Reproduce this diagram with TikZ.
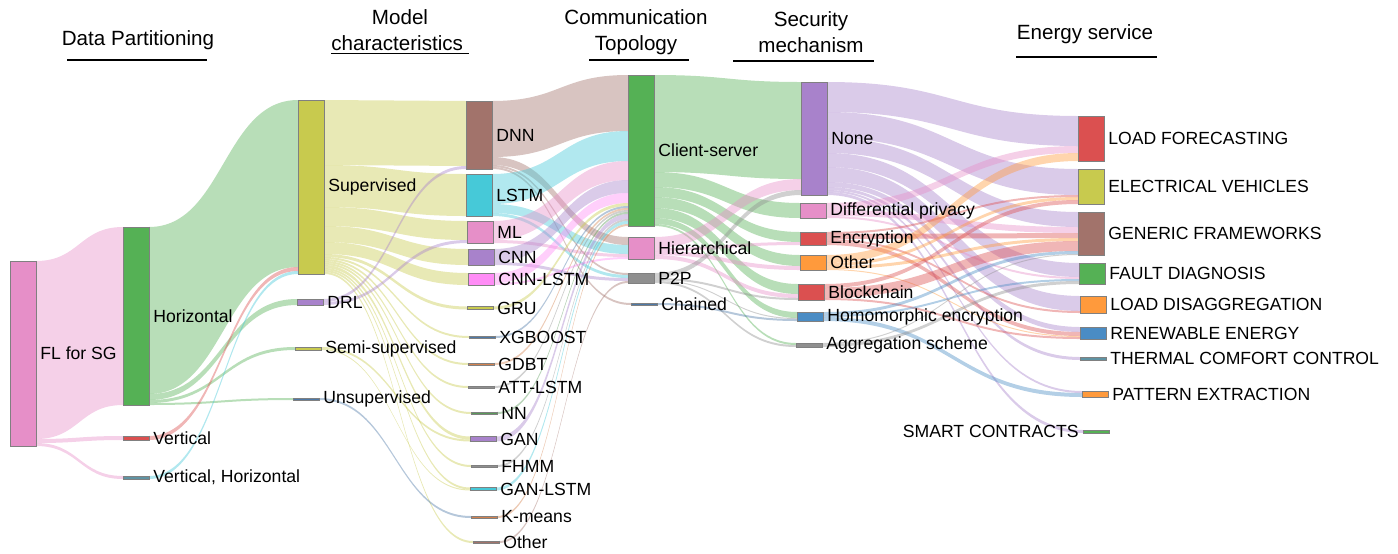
\documentclass[tikz,border=0pt]{standalone}
\usepackage{fontspec}
\setmainfont{Liberation Sans}
\usetikzlibrary{calc,positioning}
\pgfdeclarelayer{bg}
\pgfsetlayers{bg,main}

\definecolor{cPink}{HTML}{E68FC8}
\definecolor{cGreen}{HTML}{55B155}
\definecolor{cRed}{HTML}{DB5050}
\definecolor{cTeal}{HTML}{5F93A3}
\definecolor{cOlive}{HTML}{C8CA4E}
\definecolor{cPurple}{HTML}{A882CB}
\definecolor{cSteel}{HTML}{4E79A7}
\definecolor{cBrown}{HTML}{A2736B}
\definecolor{cCyan}{HTML}{46C9D8}
\definecolor{cMagenta}{HTML}{FF8CF6}
\definecolor{cRust}{HTML}{D3824F}
\definecolor{cGrey}{HTML}{8F8F8F}
\definecolor{cLeaf}{HTML}{5A9A5A}
\definecolor{cOrange}{HTML}{FF9A3C}
\definecolor{cBlue}{HTML}{4A8CC4}

% band from src (offset, px) to dst (offset, px), width in px
\newcommand{\sflow}[6]{%
  \fill[band=#6] let \p1=(#1.north east), \p2=(#3.north west),
    \p3=($(\p1)!0.5!(\p2)$) in
    (\x1,\y1-#2*0.5pt) .. controls (\x3,\y1-#2*0.5pt) and (\x3,\y2-#4*0.5pt) .. (\x2,\y2-#4*0.5pt)
    -- (\x2,\y2-#4*0.5pt-#5*0.5pt) .. controls (\x3,\y2-#4*0.5pt-#5*0.5pt) and (\x3,\y1-#2*0.5pt-#5*0.5pt) .. (\x1,\y1-#2*0.5pt-#5*0.5pt)
    -- cycle;}

\begin{document}
\begin{tikzpicture}[x=0.5pt,y=-0.5pt,node distance=1pt,
    bar/.style={draw=black!50,line width=0.3pt,minimum width=13pt,inner sep=0pt,outer sep=0pt,anchor=north west},
    barh/.style={minimum height=#1*0.5pt},
    lbl/.style={inner sep=1pt,font=\fontsize{8.8}{10}\selectfont},
    head/.style={align=center,font=\fontsize{10.3}{13}\selectfont},
    rule/.style={line width=1pt},
    band/.style={fill=#1,fill opacity=0.42}]
  \useasboundingbox (0,0) rectangle (1398,553);

  % headers
  \node[head] (h1) at (138,40) {Data Partitioning};
  \draw[rule] (67,60) -- (207,60);
  \node[head] (h2) at (400,32) {Model\\\underline{characteristics~}};
  \node[head] (h3) at (636,32) {Communication\\Topology};
  \draw[rule] (589,60) -- (689,60);
  \node[head] (h4) at (811,32) {Security\\mechanism};
  \draw[rule] (733,61) -- (874,61);
  \node[head] (h5) at (1085,34) {Energy service};
  \draw[rule] (1016,57) -- (1157,57);

  % bars
  \node[bar,barh=185,fill=cPink] (fl) at (10,261) {};
  \node[bar,barh=178,fill=cGreen] (hor) at (123,227) {};
  \node[bar,barh=4,fill=cRed] (ver) at (123,436) {};
  \node[bar,barh=3,fill=cTeal] (vh) at (123,476) {};
  \node[bar,barh=174,fill=cOlive] (sup) at (298,100) {};
  \node[bar,barh=6,fill=cPurple] (drl) at (297,299) {};
  \node[bar,barh=3,fill=cOlive] (semi) at (295,347) {};
  \node[bar,barh=2,fill=cSteel] (unsup) at (293,398) {};
  \node[bar,barh=68,fill=cBrown] (dnn) at (466,101) {};
  \node[bar,barh=42,fill=cCyan] (lstm) at (466,174) {};
  \node[bar,barh=22,fill=cPink] (ml) at (467,221) {};
  \node[bar,barh=16,fill=cPurple] (cnn) at (468,249) {};
  \node[bar,barh=12,fill=cMagenta] (cnnlstm) at (468,273) {};
  \node[bar,barh=3,fill=cOlive] (gru) at (467,306.5) {};
  \node[bar,barh=2,fill=cSteel] (xgb) at (469,336) {};
  \node[bar,barh=2,fill=cRust] (gdbt) at (468,363) {};
  \node[bar,barh=2,fill=cGrey] (att) at (468,386) {};
  \node[bar,barh=2,fill=cLeaf] (nn) at (471,412) {};
  \node[bar,barh=5,fill=cPurple] (gan) at (470,436.5) {};
  \node[bar,barh=2,fill=cGrey] (fhmm) at (471,465) {};
  \node[bar,barh=3,fill=cCyan] (ganlstm) at (470,487.5) {};
  \node[bar,barh=2,fill=cRust] (kmeans) at (471,516) {};
  \node[bar,barh=2,fill=cBrown] (oth4) at (473,541) {};
  \node[bar,barh=151,fill=cGreen] (cs) at (628,75) {};
  \node[bar,barh=22,fill=cPink] (hier) at (628,237) {};
  \node[bar,barh=10,fill=cGrey] (p2p) at (628,273) {};
  \node[bar,barh=2,fill=cSteel] (chained) at (631,303) {};
  \node[bar,barh=113,fill=cPurple] (none) at (801,82) {};
  \node[bar,barh=15,fill=cPink] (dp) at (800,203) {};
  \node[bar,barh=13,fill=cRed] (enc) at (800,232) {};
  \node[bar,barh=15,fill=cOrange] (oth6) at (800,255) {};
  \node[bar,barh=16,fill=cRed] (block) at (798,284) {};
  \node[bar,barh=9,fill=cBlue] (homo) at (797,312) {};
  \node[bar,barh=4,fill=cGrey] (agg) at (796,343) {};
  \node[bar,barh=45,fill=cRed] (lf) at (1078,116) {};
  \node[bar,barh=35,fill=cOlive] (ev) at (1078,169) {};
  \node[bar,barh=43,fill=cBrown] (gf) at (1078,212) {};
  \node[bar,barh=21,fill=cGreen] (fd) at (1079,263) {};
  \node[bar,barh=17,fill=cOrange] (ld) at (1080,296) {};
  \node[bar,barh=12,fill=cBlue] (re) at (1080,327) {};
  \node[bar,barh=3,fill=cTeal] (tc) at (1080,357) {};
  \node[bar,barh=6,fill=cOrange] (pe) at (1082,391) {};
  \node[bar,barh=3,fill=cGreen] (sc) at (1083,430) {};

  % labels
  \node[lbl,right=of fl] (fl-t) {FL for SG};
  \node[lbl,right=of hor] (hor-t) {Horizontal};
  \node[lbl,right=of ver] (ver-t) {Vertical};
  \node[lbl,right=of vh] (vh-t) {Vertical, Horizontal};
  \node[lbl,right=of sup] (sup-t) {Supervised};
  \node[lbl,right=of drl] (drl-t) {DRL};
  \node[lbl,right=of semi] (semi-t) {Semi-supervised};
  \node[lbl,right=of unsup] (unsup-t) {Unsupervised};
  \node[lbl,right=of dnn] (dnn-t) {DNN};
  \node[lbl,right=of lstm] (lstm-t) {LSTM};
  \node[lbl,right=of ml] (ml-t) {ML};
  \node[lbl,right=of cnn] (cnn-t) {CNN};
  \node[lbl,right=of cnnlstm] (cnnlstm-t) {CNN-LSTM};
  \node[lbl,right=of gru] (gru-t) {GRU};
  \node[lbl,right=of xgb] (xgb-t) {XGBOOST};
  \node[lbl,right=of gdbt] (gdbt-t) {GDBT};
  \node[lbl,right=of att] (att-t) {ATT-LSTM};
  \node[lbl,right=of nn] (nn-t) {NN};
  \node[lbl,right=of gan] (gan-t) {GAN};
  \node[lbl,right=of fhmm] (fhmm-t) {FHMM};
  \node[lbl,right=of ganlstm] (ganlstm-t) {GAN-LSTM};
  \node[lbl,right=of kmeans] (kmeans-t) {K-means};
  \node[lbl,right=of oth4] (oth4-t) {Other};
  \node[lbl,right=of cs] (cs-t) {Client-server};
  \node[lbl,right=of hier] (hier-t) {Hierarchical};
  \node[lbl,right=of p2p] (p2p-t) {P2P};
  \node[lbl,right=of chained] (chained-t) {Chained};
  \node[lbl,right=of none] (none-t) {None};
  \node[lbl,right=of dp] (dp-t) {Differential privacy};
  \node[lbl,right=of enc] (enc-t) {Encryption};
  \node[lbl,right=of oth6] (oth6-t) {Other};
  \node[lbl,right=of block] (block-t) {Blockchain};
  \node[lbl,right=of homo] (homo-t) {Homomorphic encryption};
  \node[lbl,right=of agg] (agg-t) {Aggregation scheme};
  \node[lbl,right=of lf] (lf-t) {LOAD FORECASTING};
  \node[lbl,right=of ev] (ev-t) {ELECTRICAL VEHICLES};
  \node[lbl,right=of gf] (gf-t) {GENERIC FRAMEWORKS};
  \node[lbl,right=of fd] (fd-t) {FAULT DIAGNOSIS};
  \node[lbl,right=of ld] (ld-t) {LOAD DISAGGREGATION};
  \node[lbl,right=of re] (re-t) {RENEWABLE ENERGY};
  \node[lbl,right=of tc] (tc-t) {THERMAL COMFORT CONTROL};
  \node[lbl,right=of pe] (pe-t) {PATTERN EXTRACTION};
  \node[lbl,left=of sc] (sc-t) {SMART CONTRACTS};

  \begin{pgfonlayer}{bg}
    % partitioning
    \sflow{fl}{0}{hor}{0}{178}{cPink}
    \sflow{fl}{178}{ver}{0}{4}{cPink}
    \sflow{fl}{182}{vh}{0}{3}{cPink}
    % learning type
    \sflow{hor}{0}{sup}{0}{167}{cGreen}
    \sflow{hor}{167}{drl}{0}{6}{cGreen}
    \sflow{hor}{173}{semi}{0}{3}{cGreen}
    \sflow{hor}{176}{unsup}{0}{2}{cGreen}
    \sflow{ver}{0}{sup}{167}{4}{cRed}
    \sflow{vh}{0}{sup}{171}{3}{cCyan}
    % models
    \sflow{sup}{0}{dnn}{0}{65}{cOlive}
    \sflow{sup}{65}{lstm}{0}{42}{cOlive}
    \sflow{sup}{107}{ml}{0}{19}{cOlive}
    \sflow{sup}{126}{cnn}{0}{16}{cOlive}
    \sflow{sup}{142}{cnnlstm}{0}{12}{cOlive}
    \sflow{sup}{154}{gru}{0}{3}{cOlive}
    \sflow{sup}{157}{xgb}{0}{2}{cOlive}
    \sflow{sup}{159}{gdbt}{0}{2}{cOlive}
    \sflow{sup}{161}{att}{0}{2}{cOlive}
    \sflow{sup}{163}{nn}{0}{2}{cOlive}
    \sflow{sup}{165}{gan}{0}{3}{cOlive}
    \sflow{sup}{168}{fhmm}{0}{2}{cOlive}
    \sflow{sup}{170}{ganlstm}{0}{2}{cOlive}
    \sflow{sup}{172}{oth4}{0}{2}{cOlive}
    \sflow{drl}{0}{dnn}{65}{3}{cPurple}
    \sflow{drl}{3}{ml}{19}{3}{cPurple}
    \sflow{semi}{0}{gan}{3}{2}{cOlive}
    \sflow{semi}{2}{ganlstm}{2}{1}{cOlive}
    \sflow{unsup}{0}{kmeans}{0}{2}{cSteel}
    % topology
    \sflow{dnn}{0}{cs}{0}{56}{cBrown}
    \sflow{dnn}{56}{hier}{0}{8}{cBrown}
    \sflow{dnn}{64}{p2p}{0}{2}{cBrown}
    \sflow{dnn}{66}{chained}{0}{2}{cBrown}
    \sflow{lstm}{0}{cs}{56}{30}{cCyan}
    \sflow{lstm}{30}{hier}{8}{9}{cCyan}
    \sflow{lstm}{39}{p2p}{2}{3}{cCyan}
    \sflow{ml}{0}{cs}{86}{19}{cPink}
    \sflow{ml}{19}{hier}{17}{3}{cPink}
    \sflow{cnn}{0}{cs}{105}{13}{cPurple}
    \sflow{cnn}{13}{p2p}{5}{3}{cPurple}
    \sflow{cnnlstm}{0}{cs}{118}{10}{cMagenta}
    \sflow{cnnlstm}{10}{hier}{20}{2}{cMagenta}
    \sflow{gru}{0}{cs}{128}{3}{cOlive}
    \sflow{xgb}{0}{cs}{131}{2}{cSteel}
    \sflow{gdbt}{0}{cs}{133}{2}{cRust}
    \sflow{att}{0}{cs}{135}{2}{cGrey}
    \sflow{nn}{0}{cs}{137}{2}{cLeaf}
    \sflow{gan}{0}{cs}{139}{5}{cPurple}
    \sflow{fhmm}{0}{cs}{144}{2}{cGrey}
    \sflow{ganlstm}{0}{cs}{146}{3}{cCyan}
    \sflow{kmeans}{0}{cs}{149}{2}{cRust}
    \sflow{oth4}{0}{p2p}{8}{2}{cBrown}
    % security
    \sflow{cs}{0}{none}{0}{97}{cGreen}
    \sflow{cs}{97}{dp}{0}{15}{cGreen}
    \sflow{cs}{112}{enc}{0}{10}{cGreen}
    \sflow{cs}{122}{oth6}{0}{11}{cGreen}
    \sflow{cs}{133}{block}{0}{10}{cGreen}
    \sflow{cs}{143}{homo}{0}{6}{cGreen}
    \sflow{cs}{149}{agg}{0}{2}{cGreen}
    \sflow{hier}{0}{none}{97}{11}{cPink}
    \sflow{hier}{11}{enc}{10}{3}{cPink}
    \sflow{hier}{14}{oth6}{11}{4}{cPink}
    \sflow{hier}{18}{block}{10}{4}{cPink}
    \sflow{p2p}{0}{none}{108}{5}{cGrey}
    \sflow{p2p}{5}{block}{14}{2}{cGrey}
    \sflow{p2p}{7}{homo}{6}{1}{cGrey}
    \sflow{p2p}{8}{agg}{2}{2}{cGrey}
    \sflow{chained}{0}{homo}{7}{2}{cSteel}
    % services
    \sflow{none}{0}{lf}{0}{30}{cPurple}
    \sflow{none}{30}{ev}{0}{26}{cPurple}
    \sflow{none}{56}{gf}{0}{15}{cPurple}
    \sflow{none}{71}{fd}{0}{14}{cPurple}
    \sflow{none}{85}{ld}{0}{15}{cPurple}
    \sflow{none}{100}{re}{0}{5}{cPurple}
    \sflow{none}{105}{tc}{0}{3}{cPurple}
    \sflow{none}{108}{pe}{0}{2}{cPurple}
    \sflow{none}{110}{sc}{0}{3}{cPurple}
    \sflow{dp}{0}{lf}{30}{7}{cPink}
    \sflow{dp}{7}{gf}{15}{6}{cPink}
    \sflow{dp}{13}{fd}{14}{2}{cPink}
    \sflow{enc}{0}{ev}{26}{2}{cRed}
    \sflow{enc}{2}{gf}{21}{5}{cRed}
    \sflow{enc}{7}{ld}{15}{2}{cRed}
    \sflow{enc}{9}{re}{5}{4}{cRed}
    \sflow{oth6}{0}{lf}{37}{8}{cOrange}
    \sflow{oth6}{8}{ev}{28}{3}{cOrange}
    \sflow{oth6}{11}{gf}{26}{3}{cOrange}
    \sflow{oth6}{14}{re}{9}{1}{cOrange}
    \sflow{block}{0}{ev}{31}{4}{cRed}
    \sflow{block}{4}{gf}{29}{10}{cRed}
    \sflow{block}{14}{re}{10}{2}{cRed}
    \sflow{homo}{0}{gf}{39}{3}{cBlue}
    \sflow{homo}{3}{fd}{16}{2}{cBlue}
    \sflow{homo}{5}{pe}{2}{4}{cBlue}
    \sflow{agg}{0}{gf}{42}{1}{cGrey}
    \sflow{agg}{1}{fd}{18}{3}{cGrey}
  \end{pgfonlayer}
\end{tikzpicture}
\end{document}
